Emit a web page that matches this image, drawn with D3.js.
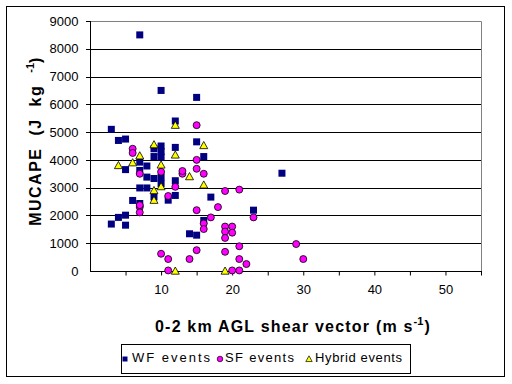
<!DOCTYPE html>
<html>
<head>
<meta charset="utf-8">
<script src="https://cdn.jsdelivr.net/npm/d3@7"></script>
<style>
  body { margin: 0; background: #fff; }
  text { font-family: "Liberation Sans", Arial, sans-serif; }
</style>
</head>
<body>
<div id="graphe"></div>
<script>
// donnees : [cisaillement 0-2 km (m/s), MUCAPE (J/kg)]
var wfEvents = [
  [3,5100],[4,4700],[5,4750],[7,8500],[10,6500],[15,6250],[12,5400],[15,4650],
  [10,4500],[10,4300],[10,4100],[9,4400],[9,4120],[12,4450],[16,4120],[7,3920],
  [8,3780],[5,3650],[7,3620],[8,3380],[9,3330],[10,3380],[10,3150],[12,3250],
  [7,2990],[8,2990],[9,2670],[11,2550],[12,2720],[6,2540],[7,2430],[17,2660],
  [23,2190],[27,3520],[3,1690],[4,1930],[5,2010],[5,1650],[16,1820],[14,1340],[15,1290]
];
var sfEvents = [
  [6,4400],[6,4250],[15,5250],[15,4000],[15,3680],[16,3500],[13,3500],[13,3600],
  [10,3570],[7,3500],[12,3030],[11,2700],[7,2300],[7,2370],[7,2110],[19,2880],
  [21,2930],[18,2300],[15,2190],[23,1930],[17,1930],[16,1710],[16,1510],[19,1600],
  [20,1600],[19,1420],[20,1380],[19,1190],[29,970],[21,890],[19,690],[15,750],
  [10,620],[11,430],[14,430],[21,430],[30,430],[22,250],[11,20],[20,20],[21,20]
];
var hybridEvents = [
  [12,5250],[9,4550],[16,4520],[12,4180],[7,4150],[4,3800],[6,3900],[10,3820],
  [14,3400],[10,3040],[16,3100],[9,2900],[9,2550],[12,0],[19,0]
];
var xTicks = [5,10,15,20,25,30,35,40,45,50,55];
var xLabels = [10,20,30,40,50];
var yTicks = [0,1000,2000,3000,4000,5000,6000,7000,8000,9000];
var legende = ["WF events","SF events","Hybrid events"];

//----------------------------------------------------------------
// svg
var largeur = 512, hauteur = 384;
var svg = d3.select("#graphe").append("svg")
  .attr("width", largeur).attr("height", hauteur);

svg.append("rect")
  .attr("x", 6.5).attr("y", 6.5).attr("width", 498).attr("height", 370)
  .attr("fill", "#fff").attr("stroke", "#000").attr("stroke-width", 1);

var gauche = 90, droite = 481, haut = 21, bas = 271;
var x = d3.scaleLinear().domain([0,55]).range([gauche, droite]);
var y = d3.scaleLinear().domain([0,9000]).range([bas, haut]);

//----------------------------------------------------------------
// grille + cadre
svg.selectAll(".grille").data(yTicks.filter(function(d){return d>0 && d<9000;}))
  .enter().append("line")
  .attr("x1", gauche - 4).attr("x2", droite)
  .attr("y1", function(d){return Math.round(y(d))+0.5;})
  .attr("y2", function(d){return Math.round(y(d))+0.5;})
  .attr("stroke", "#000");

svg.append("path")
  .attr("d", "M"+gauche+","+(haut+0.5)+"H"+(droite+0.5)+"V"+bas)
  .attr("fill", "none").attr("stroke", "#808080");
svg.append("line")
  .attr("x1", gauche-4).attr("x2", gauche)
  .attr("y1", haut+0.5).attr("y2", haut+0.5).attr("stroke", "#000");

// axes
var axeY = d3.axisLeft(y).tickValues(yTicks).tickSize(0).tickPadding(12)
  .tickFormat(d3.format("d"));
var gY = svg.append("g").attr("transform", "translate("+(gauche+0.5)+",0)").call(axeY);
gY.select(".domain").remove();
gY.selectAll("text").attr("font-size", "13px").attr("font-family", "Liberation Sans, Arial")
  .attr("fill", "#000");
svg.append("line").attr("x1", gauche+0.5).attr("x2", gauche+0.5)
  .attr("y1", haut).attr("y2", bas+1).attr("stroke", "#000");

var axeX = d3.axisBottom(x).tickValues(xTicks).tickSize(4).tickPadding(9)
  .tickFormat(function(d){ return xLabels.indexOf(d) >= 0 ? d : ""; });
var gX = svg.append("g").attr("transform", "translate(0,"+(bas+0.5)+")").call(axeX);
gX.select(".domain").attr("d", "M"+gauche+",0H"+(droite+1)).attr("stroke", "#000");
gX.selectAll("line").attr("stroke", "#000");
gX.selectAll("text").attr("font-size", "13px").attr("font-family", "Liberation Sans, Arial")
  .attr("fill", "#000");

//----------------------------------------------------------------
// points
function triangle(cx, cy, t){
  return "M"+cx+","+(cy-t)+"L"+(cx+t)+","+(cy+t*0.8)+"L"+(cx-t)+","+(cy+t*0.8)+"Z";
}

svg.selectAll(".wf").data(wfEvents).enter().append("rect")
  .attr("class", "wf")
  .attr("x", function(d){return x(d[0])-3.5;})
  .attr("y", function(d){return y(d[1])-3.5;})
  .attr("width", 7).attr("height", 7)
  .attr("fill", "#000080");

svg.selectAll(".sf").data(sfEvents).enter().append("circle")
  .attr("class", "sf")
  .attr("cx", function(d){return x(d[0]);})
  .attr("cy", function(d){return y(d[1]);})
  .attr("r", 3.5)
  .attr("fill", "#ff00ff").attr("stroke", "#000").attr("stroke-width", 0.8);

svg.selectAll(".hyb").data(hybridEvents).enter().append("path")
  .attr("class", "hyb")
  .attr("d", function(d){return triangle(x(d[0]), y(d[1]), 4);})
  .attr("fill", "#ffff00").attr("stroke", "#000").attr("stroke-width", 0.8);

//----------------------------------------------------------------
// titres
var titreY = svg.append("text")
  .attr("transform", "translate(41,141) rotate(-90)")
  .attr("text-anchor", "middle")
  .attr("font-size", "16px").attr("font-weight", "bold")
  .attr("letter-spacing", "1.5px").attr("word-spacing", "6px");
titreY.append("tspan").text("MUCAPE (J kg ");
titreY.append("tspan").attr("dy", -7).attr("font-size", "11px")
  .attr("letter-spacing", "0px").text("-1");
titreY.append("tspan").attr("dy", 7).text(")");

var titreX = svg.append("text")
  .attr("x", 155).attr("y", 332)
  .attr("font-size", "16px").attr("font-weight", "bold")
  .attr("letter-spacing", "1.2px");
titreX.append("tspan").text("0-2 km AGL shear vector (m s");
titreX.append("tspan").attr("dy", -7).attr("font-size", "11px")
  .attr("letter-spacing", "0px").text("-1");
titreX.append("tspan").attr("dy", 7).attr("dx", 1).text(")");

//----------------------------------------------------------------
// legende
svg.append("rect")
  .attr("x", 121.5).attr("y", 344.5).attr("width", 289).attr("height", 29)
  .attr("fill", "#fff").attr("stroke", "#000");

var lx = [125, 220, 309], tx = [132, 225, 315], tl = [78, 69, 87], ly = 359;
svg.append("rect").attr("x", lx[0]-2.5).attr("y", ly-2.5).attr("width", 5).attr("height", 5)
  .attr("fill", "#000080");
svg.append("circle").attr("cx", lx[1]).attr("cy", ly).attr("r", 2.8)
  .attr("fill", "#ff00ff").attr("stroke", "#000").attr("stroke-width", 0.7);
svg.append("path").attr("d", triangle(lx[2], ly, 3.2))
  .attr("fill", "#ffff00").attr("stroke", "#000").attr("stroke-width", 0.7);

svg.selectAll(".leg").data(legende).enter().append("text")
  .attr("x", function(d,i){return tx[i];})
  .attr("y", 362)
  .attr("font-size", "13px")
  .attr("textLength", function(d,i){return tl[i];})
  .attr("lengthAdjust", "spacing")
  .text(function(d){return d;});
</script>
</body>
</html>
